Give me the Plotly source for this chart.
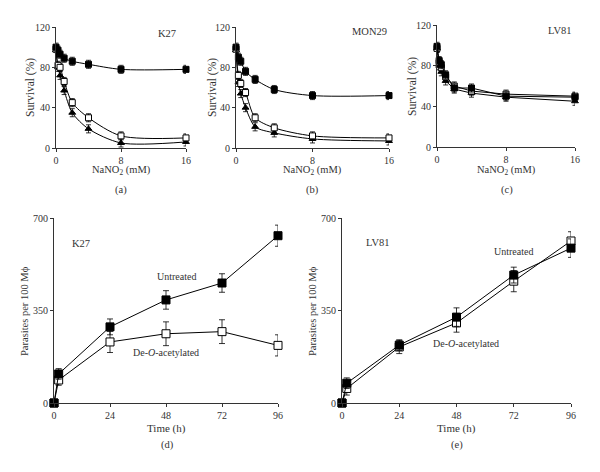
import plotly.graph_objects as go

# --- data: survival vs NaNO2 (top panels) ---
nano2_mM = [0, 0.25, 0.5, 1, 2, 4, 8, 16]

k27_filled_sq = [100, 97, 93, 89, 86, 83, 78, 78]
k27_open_sq = [98, 82, 80, 66, 45, 30, 12, 10]
k27_triangle = [97, 80, 72, 57, 35, 19, 5, 6]

mon29_filled_sq = [100, 90, 86, 76, 68, 58, 52, 52]
mon29_open_sq = [98, 72, 64, 55, 30, 20, 12, 10]
mon29_triangle = [97, 65, 54, 40, 21, 15, 9, 7]

lv81_filled_sq = [99, 85, 81, 71, 58, 58, 50, 49]
lv81_open_sq = [97, 83, 78, 69, 60, 55, 52, 50]
lv81_triangle = [97, 80, 74, 65, 57, 53, 49, 45]

surv_err = [4, 4, 4, 4, 4, 4, 4, 4]

# --- data: parasites per 100 Mphi vs time (bottom panels) ---
time_h = [0, 2, 24, 48, 72, 96]

k27_untreated = [0, 110, 288, 390, 454, 633]
k27_untreated_err = [0, 20, 30, 35, 35, 40]
k27_deacetyl = [0, 87, 231, 262, 270, 218]
k27_deacetyl_err = [0, 20, 40, 45, 45, 40]

lv81_untreated = [0, 75, 219, 325, 484, 586]
lv81_untreated_err = [0, 20, 20, 35, 30, 35]
lv81_deacetyl = [0, 55, 212, 303, 461, 613]
lv81_deacetyl_err = [0, 25, 25, 35, 40, 35]

FONT = "Liberation Serif"
INK = "#333"
# page body keeps its default 8px margin, so the figure is drawn 8px in
PAD = 8
W, H = 600 - 2 * PAD, 472 - 2 * PAD


def px(x):
    return (x - PAD) / W


def py(y):
    return 1 - (y - PAD) / H


fig = go.Figure()

top_sets = [
    (k27_filled_sq, k27_open_sq, k27_triangle, "spline"),
    (mon29_filled_sq, mon29_open_sq, mon29_triangle, "spline"),
    (lv81_filled_sq, lv81_open_sq, lv81_triangle, "linear"),
]
for i, (fsq, osq, tri, shape) in enumerate(top_sets):
    ax = "" if i == 0 else str(i + 1)
    for vals, sym, fill in [(tri, "triangle-up", "black"),
                            (osq, "square", "white"),
                            (fsq, "square", "black")]:
        fig.add_trace(go.Scatter(
            x=nano2_mM, y=vals, mode="lines+markers",
            line=dict(color="black", width=1, shape=shape, smoothing=0.8),
            marker=dict(symbol=sym, size=6, color=fill,
                        line=dict(color="black", width=1)),
            error_y=dict(type="data", array=surv_err, color="black",
                         thickness=0.8, width=2.5),
            xaxis="x" + ax, yaxis="y" + ax, cliponaxis=False, showlegend=False,
        ))

bottom_sets = [
    (k27_untreated, k27_untreated_err, k27_deacetyl, k27_deacetyl_err),
    (lv81_untreated, lv81_untreated_err, lv81_deacetyl, lv81_deacetyl_err),
]
for j, (unt, unt_e, dea, dea_e) in enumerate(bottom_sets):
    ax = str(j + 4)
    for vals, err, fill in [(dea, dea_e, "white"), (unt, unt_e, "black")]:
        fig.add_trace(go.Scatter(
            x=time_h, y=vals, mode="lines+markers",
            line=dict(color="black", width=1),
            marker=dict(symbol="square", size=8, color=fill,
                        line=dict(color="black", width=1)),
            error_y=dict(type="data", array=err, color="black",
                         thickness=0.8, width=3),
            xaxis="x" + ax, yaxis="y" + ax, cliponaxis=False, showlegend=False,
        ))

axis_common = dict(showgrid=False, zeroline=False, showline=True,
                   linecolor=INK, linewidth=1, ticks="outside",
                   ticklen=3, tickcolor=INK, automargin=False,
                   tickfont=dict(family=FONT, size=10, color=INK))

# top panel geometry (pixels): x0, x16, y0, y120
top_geo = [(56, 186, 148, 27), (236, 389, 148, 27), (437, 575, 147, 25)]
layout = {}
for i, (x0, x1, y0, y1) in enumerate(top_geo):
    k = "" if i == 0 else str(i + 1)
    layout["xaxis" + k] = dict(
        axis_common, domain=[px(x0), px(x1)], range=[0, 16],
        tickvals=[0, 8, 16], anchor="y" + k)
    layout["yaxis" + k] = dict(
        axis_common, domain=[py(y0), py(y1)], range=[0, 120],
        tickvals=[0, 40, 80, 120], anchor="x" + k)

bot_geo = [(54, 278, 403, 218), (342, 571, 403, 218)]
for j, (x0, x1, y0, y1) in enumerate(bot_geo):
    k = str(j + 4)
    layout["xaxis" + k] = dict(
        axis_common, domain=[px(x0), px(x1)], range=[0, 96],
        tickvals=[0, 24, 48, 72, 96], anchor="y" + k)
    layout["yaxis" + k] = dict(
        axis_common, domain=[py(y0), py(y1)], range=[0, 700],
        tickvals=[0, 350, 700], anchor="x" + k)

fig.update_layout(
    width=W, height=H, margin=dict(l=0, r=0, t=0, b=0, autoexpand=False),
    paper_bgcolor="white", plot_bgcolor="white",
    font=dict(family=FONT, color=INK),
    **layout,
)


def note(text, x, y, size=10.5, angle=0):
    fig.add_annotation(text=text, x=px(x), y=py(y), xref="paper", yref="paper",
                       xanchor="center", yanchor="middle", showarrow=False,
                       textangle=angle,
                       font=dict(family=FONT, size=size, color=INK))


# axis titles
for x, y in [(30, 88), (212, 88), (412, 87)]:
    note("Survival (%)", x, y, size=11.5, angle=-90)
for x in (121, 312, 506):
    note("NaNO<sub>2</sub> (mM)", x, 170, size=10.5)
note("Parasites per 100 M\u03d5", 24, 311, size=10.5, angle=-90)
note("Parasites per 100 M\u03d5", 312, 311, size=10.5, angle=-90)
note("Time (h)", 166, 428, size=11)
note("Time (h)", 456, 428, size=11)

note("K27", 167, 33)
note("MON29", 369, 32)
note("LV81", 560, 31)
note("(a)", 121, 190)
note("(b)", 312, 190)
note("(c)", 507, 190)
note("K27", 81, 243)
note("Untreated", 176, 276, size=10)
note("De-<i>O</i>-acetylated", 166, 352, size=10)
note("LV81", 378, 242)
note("Untreated", 513, 251, size=10)
note("De-<i>O</i>-acetylated", 466, 343, size=10)
note("(d)", 167, 445)
note("(e)", 457, 445)

fig.write_html("out.html")
